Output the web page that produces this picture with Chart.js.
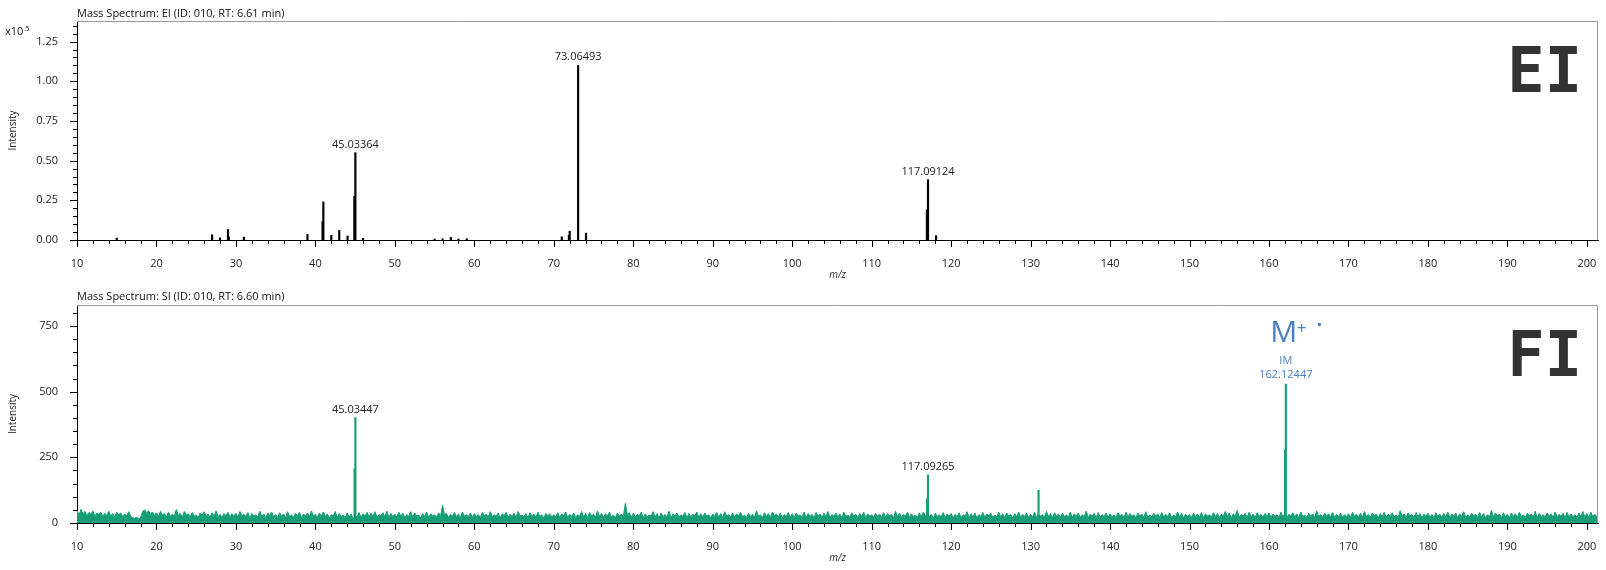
<!DOCTYPE html>
<html>
<head>
    <title>Mass Spectrum EI / FI</title>
    <script src="https://cdn.jsdelivr.net/npm/chart.js"></script>
    <style>
        body {
            margin: 0;
            background: #ffffff;
        }
        canvas {
            display: block;
        }
    </style>
</head>
<body>
    <canvas id="eiChart" width="1606" height="285"></canvas>
    <canvas id="fiChart" width="1606" height="285"></canvas>

    <script>
        // EI spectrum: centroid sticks, intensity in units of 10^5
        const eiMz = [15.0, 27.0, 28.0, 29.0, 29.1, 31.0, 39.0, 40.9, 41.0, 42.0, 43.0, 44.05, 44.9, 45.03,
                      46.0, 55.0, 56.0, 57.05, 58.0, 59.05, 71.0, 71.9, 72.0, 73.06, 74.05, 116.95, 117.09, 118.1];
        const eiIntensity = [0.012, 0.033, 0.014, 0.066, 0.02, 0.018, 0.035, 0.117, 0.24, 0.029, 0.06, 0.025, 0.275, 0.55,
                             0.01, 0.006, 0.008, 0.016, 0.006, 0.008, 0.02, 0.03, 0.055, 1.10, 0.043, 0.19, 0.38, 0.027];
        const eiLabelMz = [45.03, 73.06, 117.09];
        const eiLabelText = ['45.03364', '73.06493', '117.09124'];

        // FI spectrum: peaks on top of a noise profile (counts)
        const fiMz = [44.93, 45.03, 116.98, 117.09, 131.0, 162.02, 162.12];
        const fiIntensity = [206, 401, 92, 183, 125, 279, 529];
        const fiLabelMz = [45.03, 117.09];
        const fiLabelText = ['45.03447', '117.09265'];
        const fiMolIonMz = 162.12;
        const fiMolIonText = '162.12447';

        // noise profile, one value every 0.25 m/z starting at m/z 10 (one row = 10 m/z)
        const noiseStart = 10;
        const noiseStep = 0.25;
        const fiNoise = [
            48,30,52,35,44,28,40,33,46,26,38,31,42,25,37,29,45,27,36,22,41,30,39,24,34,28,43,26,20,18,22,16,19,44,50,38,47,33,42,29,
            39,24,45,30,36,22,41,27,33,26,52,28,37,21,44,31,35,23,40,26,31,20,38,29,43,25,34,22,39,27,46,24,33,21,36,28,41,23,35,26,
            37,22,44,28,33,25,40,19,36,27,31,23,45,26,34,20,38,29,42,24,32,21,39,27,35,18,43,25,30,22,37,28,41,20,34,26,38,23,46,27,
            33,21,38,26,42,24,35,19,31,27,44,22,36,25,30,20,39,23,34,17,28,24,40,21,35,27,41,23,37,26,43,22,32,28,39,24,45,21,36,25,
            34,22,41,26,37,20,32,25,43,23,38,27,30,19,36,24,42,21,35,28,31,22,39,25,68,30,37,20,33,26,40,23,35,19,42,27,31,24,38,22,
            36,25,32,20,40,27,34,22,43,24,31,26,38,19,35,28,41,22,33,25,37,21,44,27,30,23,36,20,39,26,34,22,41,25,31,19,37,28,35,23,
            32,24,39,21,35,27,42,20,34,25,38,22,31,26,44,23,36,19,40,28,33,22,46,25,37,21,35,27,41,23,30,20,38,26,34,24,75,32,39,22,
            37,23,33,26,41,20,35,24,30,27,43,22,36,19,39,25,32,23,45,21,34,28,38,22,31,25,40,20,36,24,33,27,42,21,35,23,38,26,31,20,
            34,25,40,22,36,19,43,26,32,23,38,21,35,27,41,24,30,20,37,25,33,22,46,26,31,19,39,24,36,21,42,27,34,23,38,20,32,25,40,22,
            35,21,38,26,31,23,42,20,36,25,33,19,40,27,34,22,37,24,44,21,32,26,38,23,35,20,41,25,30,22,39,27,33,21,36,24,42,19,35,26,
            31,22,37,25,34,20,40,23,36,27,32,19,45,24,38,21,33,26,41,22,35,25,30,20,39,24,42,26,36,22,33,19,37,25,31,23,40,21,34,27,
            36,20,33,24,39,22,31,26,43,21,35,23,38,19,32,25,40,22,34,27,37,20,30,24,41,23,35,21,38,26,32,19,36,24,42,22,33,25,37,20,
            34,23,40,21,35,26,31,22,44,24,36,20,39,27,33,21,37,25,30,23,42,20,35,26,38,22,32,24,45,21,34,27,36,19,40,23,31,25,38,22,
            35,24,30,21,39,26,33,20,41,23,36,25,32,19,38,27,34,22,43,21,31,24,37,26,35,20,40,23,33,25,38,21,30,24,42,22,36,19,34,26,
            32,21,37,25,34,22,40,20,35,27,31,23,39,24,36,21,33,26,44,22,38,20,35,25,48,23,32,27,37,21,41,24,34,20,39,26,33,22,36,25,
            38,22,34,26,31,20,41,24,36,21,33,27,39,23,35,19,42,25,30,22,37,26,34,21,46,24,32,20,38,27,35,23,40,21,33,25,37,22,31,24,
            35,21,40,26,33,23,37,20,44,25,32,22,38,27,34,19,36,24,41,21,33,26,39,23,31,20,47,25,35,22,38,27,32,21,40,24,36,19,34,25,
            37,23,32,20,39,26,34,22,36,24,41,21,33,27,38,20,35,25,43,22,31,24,37,26,34,21,40,23,36,19,32,25,48,22,38,27,35,21,39,24,
            33,20,38,25,35,22,41,24,31,21,37,27,34,23,45,20,36,25,32,22,39,26,35,21,42,24,33,27,37,20,40,23,34,25,31,22,38,26,44,23,
            36,21,41,25,34,22,43,26
        ];

        const fiGreen = 'rgb(22,158,118)';
        const labelBlue = '#4a7fc0';

        Chart.defaults.font.family = '"Open Sans", sans-serif';
        Chart.defaults.font.size = 11;
        Chart.defaults.color = '#222';

        function isMult(v, step) {
            const r = v / step;
            return Math.abs(r - Math.round(r)) < 1e-6;
        }

        function peakTop(mzList, intList, mz) {
            return intList[mzList.indexOf(mz)];
        }

        // gray frame + major/minor tick marks
        const frameTicks = {
            id: 'frameTicks',
            afterDraw(chart, args, opts) {
                const ctx = chart.ctx;
                const a = chart.chartArea;
                const xs = chart.scales.x;
                const ys = chart.scales.y;
                ctx.save();
                ctx.lineWidth = 1;
                ctx.strokeStyle = '#9a9a9a';
                ctx.beginPath();
                ctx.moveTo(a.left, a.top + 0.5);
                ctx.lineTo(a.right - 0.5, a.top + 0.5);
                ctx.lineTo(a.right - 0.5, a.bottom);
                ctx.stroke();

                ctx.strokeStyle = '#000';
                ctx.beginPath();
                xs.ticks.forEach(t => {
                    if (!isMult(t.value, opts.xMinor)) return;
                    const px = Math.round(xs.getPixelForValue(t.value)) + 0.5;
                    const len = isMult(t.value, opts.xMajor) ? 7 : 4;
                    ctx.moveTo(px, a.bottom);
                    ctx.lineTo(px, a.bottom + len);
                });
                ys.ticks.forEach(t => {
                    if (!isMult(t.value, opts.yMinor)) return;
                    const py = Math.round(ys.getPixelForValue(t.value)) + 0.5;
                    const len = isMult(t.value, opts.yMajor) ? 7 : 4;
                    ctx.moveTo(a.left, py);
                    ctx.lineTo(a.left - len, py);
                });
                ctx.stroke();
                ctx.restore();
            }
        };

        // peak labels and the big EI / FI marks
        const peakLabels = {
            id: 'peakLabels',
            afterDatasetsDraw(chart, args, opts) {
                const ctx = chart.ctx;
                const xs = chart.scales.x;
                const ys = chart.scales.y;
                ctx.save();
                ctx.textAlign = 'center';
                ctx.textBaseline = 'alphabetic';
                ctx.font = '11px "Open Sans", sans-serif';
                ctx.fillStyle = '#222';
                opts.labelMz.forEach((mz, i) => {
                    const px = xs.getPixelForValue(mz);
                    const py = ys.getPixelForValue(peakTop(opts.mz, opts.intensity, mz));
                    ctx.fillText(opts.labelText[i], px, py - 5);
                });

                if (opts.molIon) {
                    const px = xs.getPixelForValue(opts.molIon.mz);
                    const py = ys.getPixelForValue(peakTop(opts.mz, opts.intensity, opts.molIon.mz));
                    ctx.fillStyle = labelBlue;
                    ctx.fillText(opts.molIon.text, px, py - 6);
                    ctx.fillText('IM', px, py - 20);
                    ctx.font = '30px "Open Sans", sans-serif';
                    ctx.fillText('M', px - 2, py - 42);
                    ctx.font = '17px "Open Sans", sans-serif';
                    ctx.textAlign = 'left';
                    ctx.fillText('+', px + 11, py - 50);
                    ctx.fillRect(px + 32, py - 61, 3, 3);
                }

                ctx.fillStyle = '#333';
                ctx.textAlign = 'right';
                ctx.font = 'bold 62px "DejaVu Sans Mono", monospace';
                ctx.fillText(opts.mark, 1582, opts.markY);

                if (opts.exponent) {
                    ctx.textAlign = 'left';
                    ctx.fillStyle = '#222';
                    ctx.font = '11px "Open Sans", sans-serif';
                    ctx.fillText('x10', 5, 35);
                    ctx.font = '8px "Open Sans", sans-serif';
                    ctx.fillText('5', 25, 31);
                }
                ctx.restore();
            }
        };

        function makeScales(cfg) {
            return {
                x: {
                    type: 'linear',
                    min: 10,
                    max: 201.4,
                    offset: false,
                    grid: { display: false },
                    border: { display: true, color: '#000', width: 1 },
                    ticks: {
                        stepSize: 2,
                        includeBounds: false,
                        maxTicksLimit: 1000,
                        autoSkip: false,
                        maxRotation: 0,
                        padding: 9,
                        color: '#222',
                        callback: v => isMult(v, 10) ? String(Math.round(v)) : ''
                    },
                    title: {
                        display: true,
                        text: 'm/z',
                        font: { size: 10, style: 'italic' },
                        color: '#222',
                        padding: { top: 0, bottom: cfg.xTitlePad }
                    },
                    afterFit: s => { s.height = cfg.xHeight; }
                },
                y: {
                    min: 0,
                    max: cfg.yMax,
                    grid: { display: false },
                    border: { display: true, color: '#000', width: 1 },
                    ticks: {
                        stepSize: cfg.yMinor,
                        includeBounds: false,
                        maxTicksLimit: 1000,
                        autoSkip: false,
                        padding: 11,
                        color: '#222',
                        callback: v => isMult(v, cfg.yMajor) ? cfg.yFormat(v) : ''
                    },
                    title: {
                        display: true,
                        text: 'Intensity',
                        font: { size: 10 },
                        color: '#222',
                        padding: { top: 7, bottom: 0 }
                    },
                    afterFit: s => { s.width = 77; }
                }
            };
        }

        new Chart(document.getElementById('eiChart'), {
            type: 'bar',
            data: {
                datasets: [{
                    data: eiMz.map((m, i) => ({ x: m, y: eiIntensity[i] })),
                    backgroundColor: '#000',
                    barThickness: 1.5,
                    grouped: false
                }]
            },
            options: {
                responsive: false,
                animation: false,
                devicePixelRatio: 1,
                layout: { padding: { left: 0, right: 8, top: 0, bottom: 0 } },
                plugins: {
                    legend: { display: false },
                    tooltip: { enabled: false },
                    title: {
                        display: true,
                        text: 'Mass Spectrum: EI (ID: 010, RT: 6.61 min)',
                        align: 'start',
                        fullSize: false,
                        font: { size: 11, weight: 'normal' },
                        color: '#111',
                        padding: { top: 7.4, bottom: 0.4 }
                    },
                    frameTicks: { xMinor: 2, xMajor: 10, yMinor: 0.05, yMajor: 0.25 },
                    peakLabels: {
                        mz: eiMz, intensity: eiIntensity,
                        labelMz: eiLabelMz, labelText: eiLabelText,
                        mark: 'EI', markY: 92, exponent: true
                    }
                },
                scales: makeScales({
                    xHeight: 45, xTitlePad: 4, yMax: 1.38, yMinor: 0.05, yMajor: 0.25,
                    yFormat: v => v.toFixed(2)
                })
            },
            plugins: [frameTicks, peakLabels]
        });

        new Chart(document.getElementById('fiChart'), {
            type: 'bar',
            data: {
                datasets: [{
                    data: fiMz.map((m, i) => ({ x: m, y: fiIntensity[i] })),
                    backgroundColor: fiGreen,
                    barThickness: 1.5,
                    grouped: false
                }, {
                    type: 'line',
                    data: fiNoise.map((v, i) => ({ x: noiseStart + i * noiseStep, y: v })),
                    borderColor: fiGreen,
                    backgroundColor: fiGreen,
                    borderWidth: 1,
                    pointRadius: 0,
                    tension: 0,
                    fill: 'origin'
                }]
            },
            options: {
                responsive: false,
                animation: false,
                devicePixelRatio: 1,
                layout: { padding: { left: 0, right: 8, top: 0, bottom: 0 } },
                plugins: {
                    legend: { display: false },
                    tooltip: { enabled: false },
                    title: {
                        display: true,
                        text: 'Mass Spectrum: SI (ID: 010, RT: 6.60 min)',
                        align: 'start',
                        fullSize: false,
                        font: { size: 11, weight: 'normal' },
                        color: '#111',
                        padding: { top: 5.1, bottom: 1.7 }
                    },
                    frameTicks: { xMinor: 2, xMajor: 10, yMinor: 50, yMajor: 250 },
                    peakLabels: {
                        mz: fiMz, intensity: fiIntensity,
                        labelMz: fiLabelMz, labelText: fiLabelText,
                        molIon: { mz: fiMolIonMz, text: fiMolIonText },
                        mark: 'FI', markY: 91, exponent: false
                    }
                },
                scales: makeScales({
                    xHeight: 47, xTitlePad: 6, yMax: 830, yMinor: 50, yMajor: 250,
                    yFormat: v => String(Math.round(v))
                })
            },
            plugins: [frameTicks, peakLabels]
        });
    </script>
</body>
</html>
